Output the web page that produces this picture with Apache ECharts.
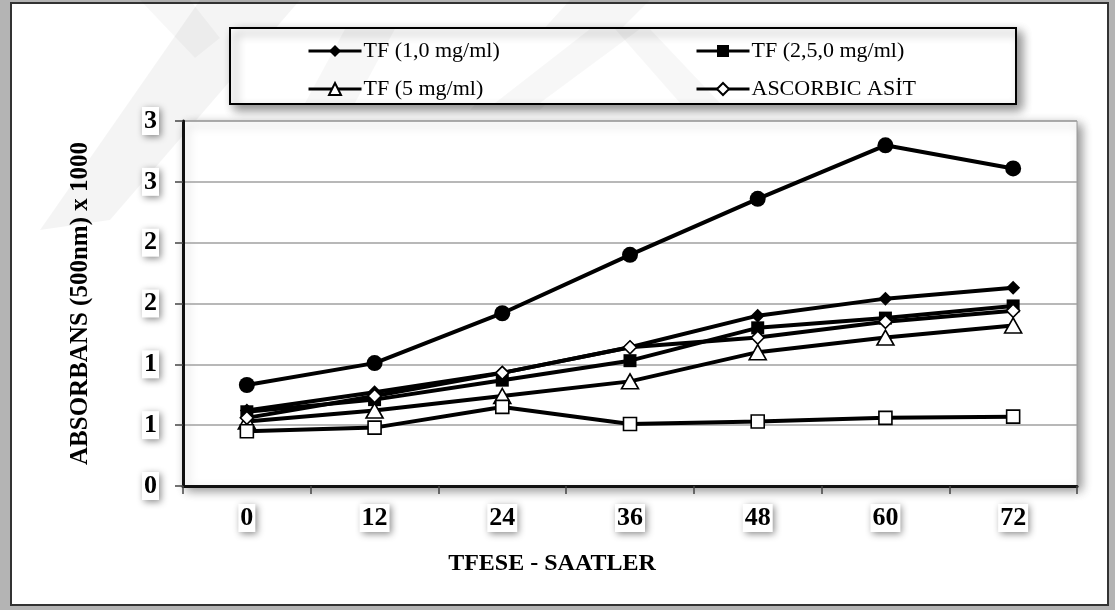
<!DOCTYPE html>
<html>
<head>
<meta charset="utf-8">
<script src="https://cdn.jsdelivr.net/npm/echarts@6/dist/echarts.min.js"></script>
<style>
html,body{margin:0;padding:0;background:#fff;}
#chart{width:1115px;height:610px;}
</style>
</head>
<body>
<div id="chart"></div>
<script>
// ---- data ----
var categories = ['0', '12', '24', '36', '48', '60', '72'];
var yTickLabels = ['0', '1', '1', '2', '2', '3', '3'];
var seriesNames = ['TF (1,0 mg/ml)', 'TF (2,5,0 mg/ml)', 'TF (5 mg/ml)', 'ASCORBIC ASİT', 'Seri 5', 'Seri 6'];
var tf1 = [0.62, 0.77, 0.93, 1.14, 1.40, 1.54, 1.63];
var tf25 = [0.61, 0.71, 0.87, 1.03, 1.30, 1.38, 1.48];
var tf5 = [0.53, 0.62, 0.74, 0.86, 1.10, 1.22, 1.32];
var ascorbic = [0.56, 0.74, 0.93, 1.14, 1.22, 1.35, 1.44];
var seri5 = [0.83, 1.01, 1.42, 1.90, 2.36, 2.80, 2.61];
var seri6 = [0.45, 0.48, 0.65, 0.51, 0.53, 0.56, 0.57];
var xTitle = 'TFESE - SAATLER';
var yTitle = 'ABSORBANS (500nm) x 1000';

var FONT = "'Liberation Serif', 'Times New Roman', serif";

function lineSeries(name, data, symbol, size, filled) {
  return {
    name: name,
    type: 'line',
    data: data,
    symbol: symbol,
    symbolSize: size,
    showSymbol: true,
    lineStyle: { color: '#000', width: 4 },
    itemStyle: filled ? { color: '#000', borderColor: '#000', borderWidth: 0 }
                      : { color: '#fff', borderColor: '#000', borderWidth: 1.6 },
    emphasis: { disabled: true },
    z: 3
  };
}

var labelBox = {
  backgroundColor: '#fff',
  padding: [1, 2, 1, 2],
  shadowColor: 'rgba(0,0,0,0.45)',
  shadowBlur: 7,
  shadowOffsetX: 2,
  shadowOffsetY: 2
};

function legendAt(name, left, top) {
  return {
    data: [name],
    left: left,
    top: top,
    orient: 'horizontal',
    itemWidth: 53,
    itemHeight: 15,
    itemGap: 5,
    selectedMode: false,
    lineStyle: { width: 3, color: '#000' },
    textStyle: { fontFamily: FONT, fontSize: 22, color: '#000', padding: [0, 0, 0, -3] },
    z: 6
  };
}

var chart = echarts.init(document.getElementById('chart'), null, { renderer: 'canvas' });
chart.setOption({
  animation: false,
  backgroundColor: '#b4b4b4',
  graphic: [
    { type: 'rect', z: -10, shape: { x: 11, y: 3, width: 1097, height: 602 },
      style: { fill: '#fff', stroke: '#333', lineWidth: 2 } },
    { type: 'polygon', z: -9, shape: { points: [[200, 0], [300, 0], [110, 220], [40, 230]] },
      style: { fill: 'rgba(0,0,0,0.045)' } },
    { type: 'polygon', z: -9, shape: { points: [[140, 0], [190, 0], [220, 38], [195, 58]] },
      style: { fill: 'rgba(0,0,0,0.03)' } },
    { type: 'polygon', z: -9, shape: { points: [[570, 0], [650, 0], [540, 110], [470, 110]] },
      style: { fill: 'rgba(0,0,0,0.035)' } },
    { type: 'rect', z: 1, shape: { x: 230, y: 28, width: 786, height: 76 },
      style: { fill: '#fff', stroke: '#000', lineWidth: 2,
               shadowBlur: 10, shadowOffsetX: 5, shadowOffsetY: 5, shadowColor: 'rgba(0,0,0,0.45)' } },
    { type: 'polygon', z: 2, shape: { points: [[345, 29], [395, 29], [355, 103], [305, 103]] },
      style: { fill: 'rgba(0,0,0,0.03)' } },
    { type: 'polygon', z: 2, shape: { points: [[590, 29], [640, 29], [540, 103], [495, 103]] },
      style: { fill: 'rgba(0,0,0,0.03)' } },
    { type: 'polygon', z: 2, shape: { points: [[615, 29], [650, 29], [720, 103], [680, 103]] },
      style: { fill: 'rgba(0,0,0,0.03)' } }
  ],
  legend: [
    legendAt(seriesNames[0], 302, 35),
    legendAt(seriesNames[1], 690, 35),
    legendAt(seriesNames[2], 302, 73),
    legendAt(seriesNames[3], 690, 73)
  ],
  grid: {
    left: 183, top: 121, right: 38, bottom: 124,
    show: true, backgroundColor: '#fff', borderColor: '#9a9a9a', borderWidth: 1,
    shadowColor: 'rgba(0,0,0,0.45)', shadowBlur: 10, shadowOffsetX: 4, shadowOffsetY: 4
  },
  xAxis: {
    type: 'category',
    data: categories,
    boundaryGap: true,
    axisLine: { show: true, lineStyle: { color: '#111', width: 3 } },
    axisTick: { show: true, inside: false, length: 8, alignWithLabel: false, lineStyle: { color: '#444', width: 1.5 } },
    axisLabel: Object.assign({ margin: 18, fontFamily: FONT, fontSize: 26, fontWeight: 'bold', color: '#000' }, labelBox),
    splitLine: { show: false },
    name: xTitle,
    nameLocation: 'middle',
    nameGap: 66,
    nameTextStyle: { fontFamily: FONT, fontSize: 24, fontWeight: 'bold', color: '#000', padding: [0, 156, 0, 0] }
  },
  yAxis: {
    type: 'value',
    min: 0, max: 3, interval: 0.5,
    axisLine: { show: true, lineStyle: { color: '#111', width: 3 } },
    axisTick: { show: true, inside: false, length: 8, lineStyle: { color: '#444', width: 1.5 } },
    axisLabel: Object.assign({
      margin: 24, fontFamily: FONT, fontSize: 26, fontWeight: 'bold', color: '#000',
      formatter: function (v) { return yTickLabels[Math.round(v / 0.5)]; }
    }, labelBox),
    splitLine: { show: true, lineStyle: { color: '#a0a0a0', width: 1.5 } },
    name: yTitle,
    nameLocation: 'middle',
    nameRotate: 90,
    nameGap: 90,
    nameTextStyle: { fontFamily: FONT, fontSize: 25, fontWeight: 'bold', color: '#000' }
  },
  series: [
    lineSeries(seriesNames[0], tf1, 'diamond', 14, true),
    lineSeries(seriesNames[1], tf25, 'rect', 13, true),
    lineSeries(seriesNames[2], tf5, 'triangle', [17, 15], false),
    lineSeries(seriesNames[3], ascorbic, 'diamond', 13, false),
    lineSeries(seriesNames[4], seri5, 'circle', 16, true),
    lineSeries(seriesNames[5], seri6, 'rect', 13, false)
  ]
});
</script>
</body>
</html>
